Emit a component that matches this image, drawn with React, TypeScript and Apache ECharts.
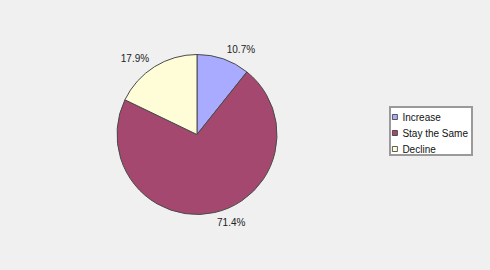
import React, { useEffect, useRef } from "react";
import * as echarts from "echarts";

const categories = ["Increase", "Stay the Same", "Decline"];
const values = [3, 20, 5];
const colors = ["#a8abff", "#a5486f", "#fffdd8"];

export default function App() {
  const ref = useRef<HTMLDivElement>(null);
  useEffect(() => {
    const chart = echarts.init(ref.current!, null, { renderer: "svg" });
    const font = "'Liberation Sans', Arial, Helvetica, sans-serif";
    chart.setOption({
      animation: false,
      backgroundColor: "#f0f0f0",
      textStyle: { fontFamily: font },
      legend: {
        orient: "vertical",
        left: 390,
        top: 107,
        width: 81,
        padding: [4, 4, 0, 2],
        backgroundColor: "#ffffff",
        borderColor: "#9a9a9a",
        borderWidth: 2,
        itemWidth: 5,
        itemHeight: 5,
        itemGap: 4,
        itemTextGap: 4,
        icon: "rect",
        textStyle: { fontSize: 10, color: "#111", fontFamily: font, lineHeight: 12 },
        itemStyle: { borderColor: "#333", borderWidth: 0.8 },
        data: categories,
      },
      series: [
        {
          type: "pie",
          center: [197, 134.5],
          radius: 80,
          startAngle: 90,
          clockwise: true,
          data: categories.map((c, i) => ({ name: c, value: values[i], itemStyle: { color: colors[i] } })),
          itemStyle: { borderColor: "#4a4a4a", borderWidth: 1 },
          label: {
            show: true,
            position: "outside",
            formatter: (p: any) => p.percent.toFixed(1) + "%",
            fontSize: 10,
            color: "#222",
            fontFamily: font,
            distanceToLabelLine: 0,
          },
          labelLine: { show: false, length: 10, length2: 0 },
          emphasis: { disabled: true },
        },
      ],
    });
    return () => chart.dispose();
  }, []);
  return <div ref={ref} style={{ position: "absolute", left: 0, top: 0, width: 490, height: 270 }} />;
}
